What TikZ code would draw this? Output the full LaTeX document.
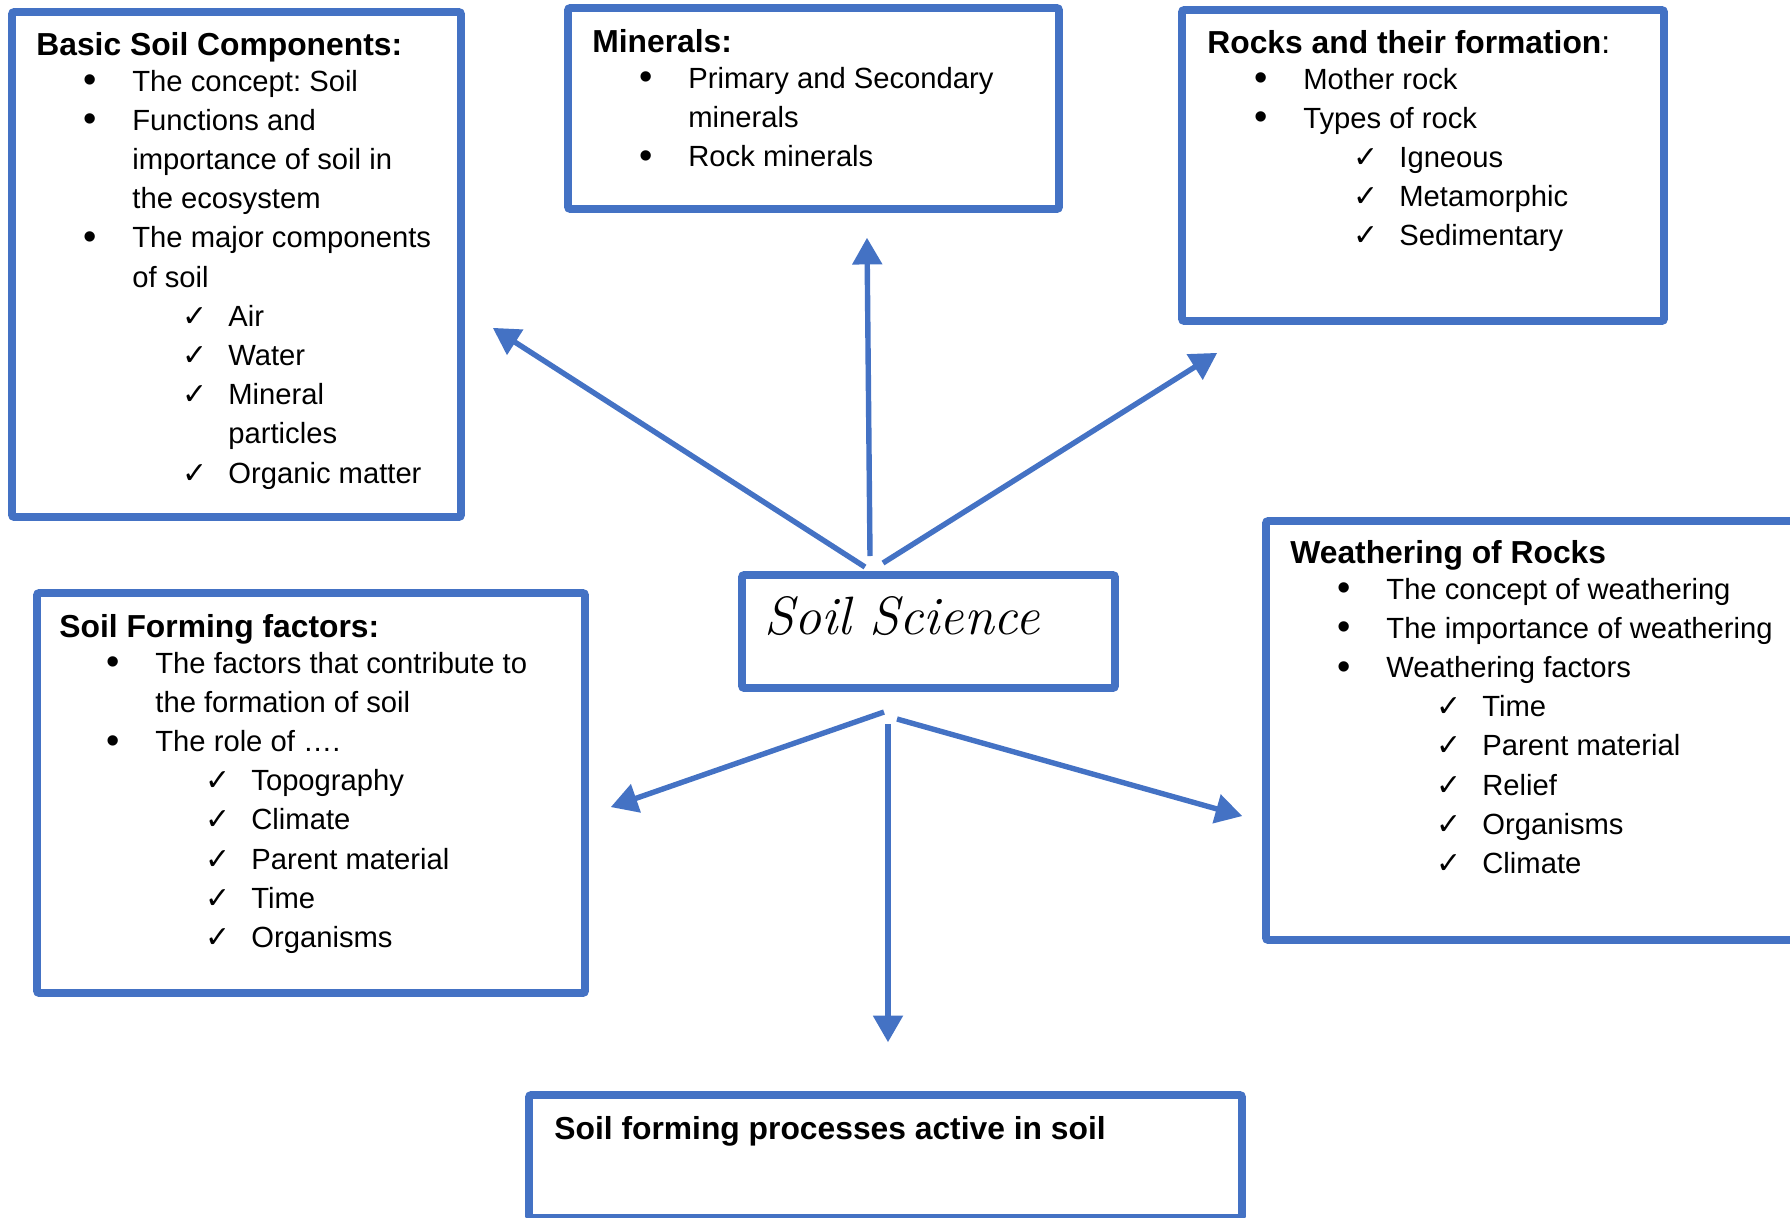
\documentclass[tikz,border=0pt]{standalone}
\usepackage{fontspec}
\usetikzlibrary{arrows}
\newfontfamily\arial{Liberation Sans}
\newfontfamily\tickfont{DejaVu Sans}
\definecolor{boxblue}{HTML}{4472C4}
\frenchspacing

\newcommand\hd[1]{{\fontsize{15.9}{19.6}\selectfont\bfseries #1\par}\vspace{-1.6pt}}
\newcommand\bul[1]{\hspace*{27pt}\makebox[0pt]{\raisebox{-0.8pt}{\fontsize{19}{19}\selectfont\textbullet}}\hspace*{21pt}#1\par}
\newcommand\cont[1]{\hspace*{48pt}#1\par}
\newcommand\tick[1]{\hspace*{73pt}\makebox[0pt][l]{\tickfont\fontsize{15}{15}\selectfont ✓}\hspace*{23pt}#1\par}
\newcommand\tcont[1]{\hspace*{96pt}#1\par}

\begin{document}
\begin{tikzpicture}[x=0.5pt,y=-0.5pt,>=triangle 60,
    topic/.style={draw=boxblue,line width=3.8pt,rounded corners=1pt,inner sep=0pt},
    txt/.style={anchor=base west,inner sep=0pt,font=\arial\fontsize{14.6}{19.6}\selectfont}]
    \clip (0,0) rectangle (1790,1217);
    \node[topic,minimum width=224.5pt,minimum height=252.5pt] (basic) at (236.5,264.5) {};
    \node[topic,minimum width=245.5pt,minimum height=100.5pt] (minerals) at (813.5,108.5) {};
    \node[topic,minimum width=241pt,minimum height=155.5pt] (rocks) at (1423,165.5) {};
    \node[topic,minimum width=186.5pt,minimum height=56.5pt] (science) at (928.5,631.5) {};
    \node[topic,minimum width=274pt,minimum height=200pt] (forming) at (311,793) {};
    \node[topic,minimum width=272pt,minimum height=209.5pt] (weathering) at (1538,730.5) {};
    \node[topic,minimum width=356.5pt,minimum height=61.5pt] (processes) at (885.5,1156.5) {};

    \node[txt] (basic-t) at (36,55) {\begin{minipage}[t]{260pt}
        \hd{Basic Soil Components:}
        \bul{The concept: Soil}
        \bul{Functions and}
        \cont{importance of soil in}
        \cont{the ecosystem}
        \bul{The major components}
        \cont{of soil}
        \tick{Air}
        \tick{Water}
        \tick{Mineral}
        \tcont{particles}
        \tick{Organic matter}
    \end{minipage}};
    \node[txt] (minerals-t) at (592,52) {\begin{minipage}[t]{260pt}
        \hd{Minerals:}
        \bul{Primary and Secondary}
        \cont{minerals}
        \bul{Rock minerals}
    \end{minipage}};
    \node[txt] (rocks-t) at (1207,53) {\begin{minipage}[t]{260pt}
        \hd{Rocks and their formation{\mdseries :}}
        \bul{Mother rock}
        \bul{Types of rock}
        \tick{Igneous}
        \tick{Metamorphic}
        \tick{Sedimentary}
    \end{minipage}};
    \node[anchor=base west,inner sep=0pt,font=\fontsize{27}{27}\selectfont\itshape] (science-t) at (764,634) {Soil Science};
    \node[txt] (forming-t) at (59,637) {\begin{minipage}[t]{260pt}
        \hd{Soil Forming factors:}
        \bul{The factors that contribute to}
        \cont{the formation of soil}
        \bul{The role of ….}
        \tick{Topography}
        \tick{Climate}
        \tick{Parent material}
        \tick{Time}
        \tick{Organisms}
    \end{minipage}};
    \node[txt] (weathering-t) at (1290,563) {\begin{minipage}[t]{260pt}
        \hd{Weathering of Rocks}
        \bul{The concept of weathering}
        \bul{The importance of weathering}
        \bul{Weathering factors}
        \tick{Time}
        \tick{Parent material}
        \tick{Relief}
        \tick{Organisms}
        \tick{Climate}
    \end{minipage}};
    \node[txt,font=\arial\fontsize{15.9}{19.6}\selectfont\bfseries] (processes-t) at (554,1139) {Soil forming processes active in soil};

    \coordinate (s1) at (865,567); \coordinate (e1) at (493,328);
    \coordinate (s2) at (870,556); \coordinate (e2) at (867,238);
    \coordinate (s3) at (883,563); \coordinate (e3) at (1217,353);
    \coordinate (s4) at (884,712); \coordinate (e4) at (611,807);
    \coordinate (s5) at (888,724); \coordinate (e5) at (888,1042);
    \coordinate (s6) at (897,719); \coordinate (e6) at (1242,816);
    \path[->,color=boxblue,line width=2.7pt](s1) edge (e1);
    \path[->,color=boxblue,line width=2.7pt](s2) edge (e2);
    \path[->,color=boxblue,line width=2.7pt](s3) edge (e3);
    \path[->,color=boxblue,line width=2.7pt](s4) edge (e4);
    \path[->,color=boxblue,line width=2.7pt](s5) edge (e5);
    \path[->,color=boxblue,line width=2.7pt](s6) edge (e6);
\end{tikzpicture}
\end{document}
